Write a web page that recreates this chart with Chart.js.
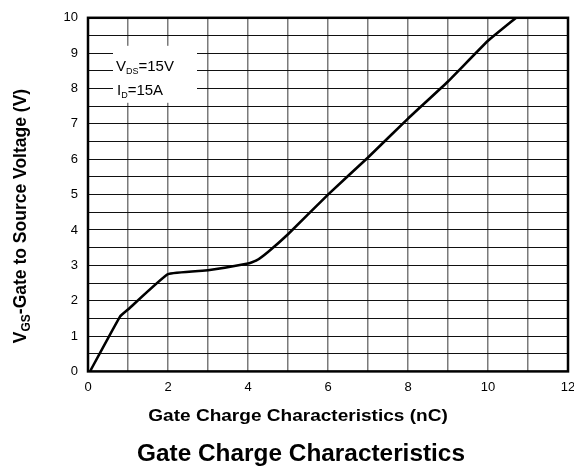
<!DOCTYPE html>
<html>
<head>
<meta charset="utf-8">
<script src="https://cdn.jsdelivr.net/npm/chart.js@4/dist/chart.umd.min.js"></script>
<style>
body{margin:0;background:#fff;overflow:hidden;}
#clip{width:574px;height:471px;overflow:hidden;}
#wrap{width:590px;height:471px;}
</style>
</head>
<body>
<div id="clip"><div id="wrap"><canvas id="gc"></canvas></div></div>
<script>
/* DATA */
let charge=[0.05,0.8,1,2,3,4,4.2,4.5,5,6,7,8,9,10,10.7];
let vgs=[0,1.55,1.75,2.75,2.86,3.05,3.13,3.38,3.88,5.0,6.05,7.15,8.2,9.35,10];
let xTicks=[0,2,4,6,8,10,12];
let yTicks=[0,1,2,3,4,5,6,7,8,9,10];
let note=[["V","DS","=15V"],["I","D","=15A"]];

let pts=charge.map((c,i)=>({x:c,y:vgs[i]}));
let F="Arial, 'Liberation Sans', sans-serif";

/* text with subscript */
function sub(ctx,x,y,parts,big,small,drop){
ctx.font=big+"px "+F;
ctx.fillText(parts[0],x,y);
x+=ctx.measureText(parts[0]).width;
ctx.font=small+"px "+F;
ctx.fillText(parts[1],x,y+drop);
x+=ctx.measureText(parts[1]).width;
ctx.font=big+"px "+F;
ctx.fillText(parts[2],x,y);
}

/* white box with test conditions */
let notePlugin={
id:"note",
beforeDatasetsDraw(ch){
let ctx=ch.ctx,a=ch.chartArea;
ctx.save();
ctx.fillStyle="#fff";
ctx.fillRect(a.left+25,a.top+28,84,57);
ctx.fillStyle="#000";
ctx.textBaseline="alphabetic";
sub(ctx,a.left+28,a.top+53,note[0],15,9,3);
sub(ctx,a.left+29,a.top+77,note[1],15,9,3);
ctx.restore();
}
};

/* frame + titles */
let framePlugin={
id:"frame",
afterDraw(ch){
let ctx=ch.ctx,a=ch.chartArea;
ctx.save();
ctx.strokeStyle="#000";
ctx.lineWidth=2.5;
ctx.strokeRect(a.left,a.top,a.right-a.left,a.bottom-a.top);
ctx.fillStyle="#000";
ctx.textAlign="center";
ctx.textBaseline="middle";
// titles are a bit wider than plain Arial in the picture
ctx.save();
ctx.translate(298,416);
ctx.scale(1.12,1);
ctx.font="bold 17px "+F;
ctx.fillText("Gate Charge Characteristics (nC)",0,0);
ctx.restore();
ctx.save();
ctx.translate(301,455);
ctx.scale(1.06,1);
ctx.font="bold 23px "+F;
ctx.fillText("Gate Charge Characteristics",0,0);
ctx.restore();
/* y title */
ctx.translate(26,216);
ctx.rotate(-Math.PI/2);
ctx.textAlign="left";
ctx.textBaseline="alphabetic";
ctx.font="bold 17.5px "+F;
let t1="V",t2="GS",t3="-Gate to Source Voltage (V)";
let w1=ctx.measureText(t1).width,w3=ctx.measureText(t3).width;
ctx.font="bold 12px "+F;
let w2=ctx.measureText(t2).width;
let x=-(w1+w2+w3)/2;
ctx.font="bold 17.5px "+F;
ctx.fillText(t1,x,0);
ctx.font="bold 12px "+F;
ctx.fillText(t2,x+w1,4);
ctx.font="bold 17.5px "+F;
ctx.fillText(t3,x+w1+w2,0);
ctx.restore();
}
};

new Chart(document.getElementById("gc"),{
type:"line",
data:{
datasets:[{
data:pts,
borderColor:"#000",
borderWidth:2.6,
pointRadius:0,
tension:0.1,
fill:false
}]
},
options:{
responsive:true,
maintainAspectRatio:false,
animation:false,
layout:{padding:{top:15,bottom:68,left:0,right:22}},
plugins:{legend:{display:false},tooltip:{enabled:false}},
scales:{
x:{
type:"linear",min:0,max:12,
border:{display:false},
grid:{color:"#7a7a7a",lineWidth:1.5,drawTicks:false},
ticks:{stepSize:1,autoSkip:false,maxRotation:0,padding:8,color:"#000",font:{size:13,family:F},
callback:v=>xTicks.includes(v)?v:""}
},
y:{
min:0,max:10,
border:{display:false},
grid:{color:"#111",lineWidth:1,drawTicks:false},
ticks:{stepSize:0.5,autoSkip:false,padding:10,color:"#000",font:{size:13,family:F},
callback:v=>yTicks.includes(v)?v:""},
afterFit(s){s.width=88;}
}
}
},
plugins:[notePlugin,framePlugin]
});
</script>
</body>
</html>
